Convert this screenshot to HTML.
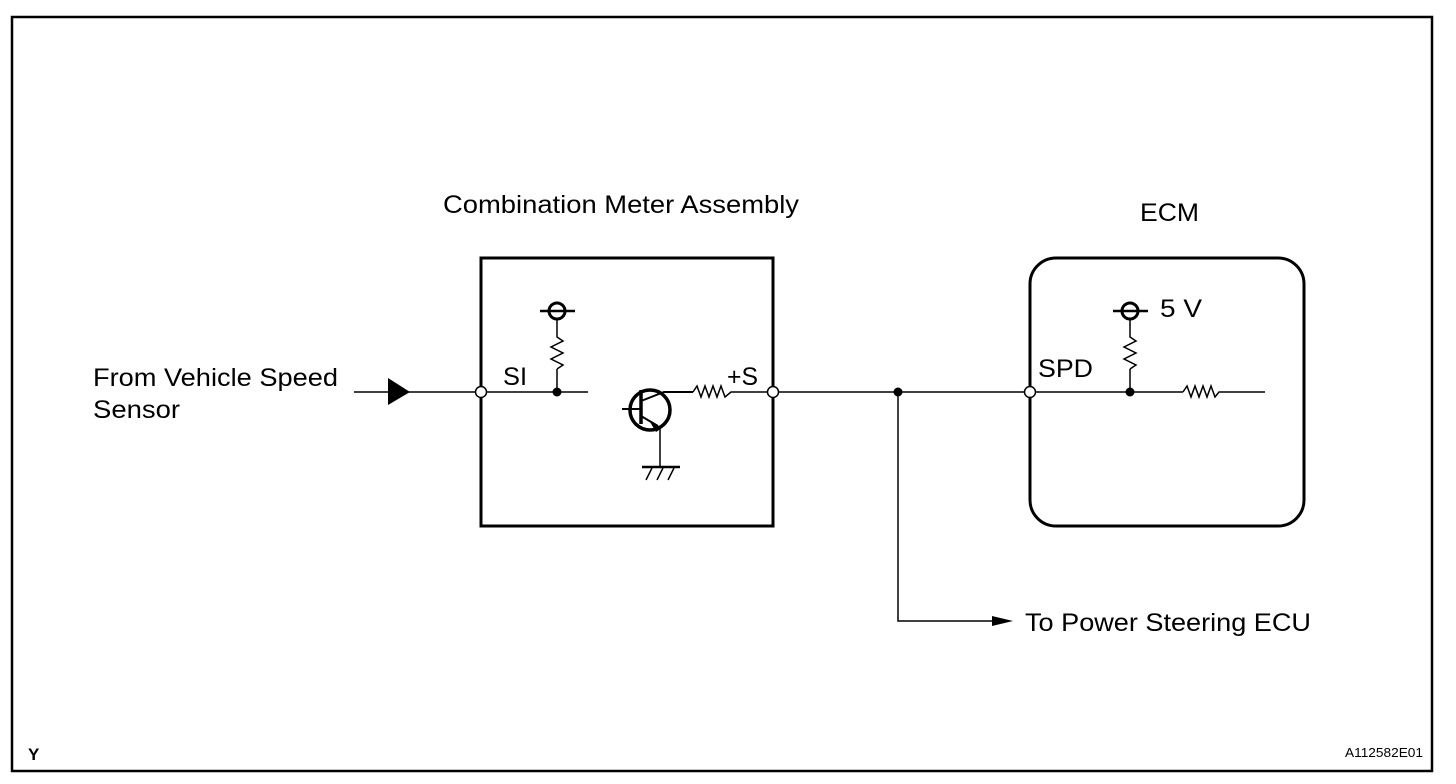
<!DOCTYPE html>
<html><head><meta charset="utf-8"><style>
html,body{margin:0;padding:0;background:#fff;}
svg{display:block;}
text{font-family:"Liberation Sans",Arial,sans-serif;fill:#000;}
</style></head><body>
<svg width="1456" height="784" viewBox="0 0 1456 784" xmlns="http://www.w3.org/2000/svg">
<rect x="12" y="17" width="1420" height="754" fill="none" stroke="#000" stroke-width="2.5"/>
<g stroke="#000" fill="none">
<rect x="481" y="258" width="292" height="268" stroke-width="3"/>
<rect x="1030" y="258" width="274" height="268" rx="26" stroke-width="3"/>
<line x1="354" y1="392" x2="588" y2="392" stroke-width="1.5"/>
<line x1="557" y1="392" x2="557" y2="369" stroke-width="1.5"/>
<polyline points="557,369 563,365 551,359 563,353 551,347 563,341 557,337 557,319" stroke-width="1.5"/>
<circle cx="557" cy="311" r="8" stroke-width="3"/>
<line x1="540" y1="311" x2="575" y2="311" stroke-width="2.5"/>
<circle cx="650" cy="410" r="20" stroke-width="3.5"/>
<line x1="641" y1="390" x2="641" y2="424" stroke-width="3.5"/>
<line x1="622" y1="409" x2="641" y2="409" stroke-width="2"/>
<polyline points="641,401 664,392 693,392" stroke-width="2"/>
<line x1="641" y1="416" x2="658" y2="426" stroke-width="2"/>
<line x1="660" y1="428" x2="660" y2="467" stroke-width="1.5"/>
<line x1="642" y1="467" x2="680" y2="467" stroke-width="2.5"/>
<line x1="646" y1="480" x2="652" y2="468" stroke-width="1.5"/>
<line x1="657" y1="480" x2="663" y2="468" stroke-width="1.5"/>
<line x1="668" y1="480" x2="674" y2="468" stroke-width="1.5"/>
<polyline points="693,392 697,386 701,397 705,386 709,397 713,386 717,397 721,386 725,397 731,392 773,392" stroke-width="1.5"/>
<line x1="773" y1="392" x2="1030" y2="392" stroke-width="1.5"/>
<polyline points="898,392 898,621 995,621" stroke-width="1.5"/>
<line x1="1030" y1="392" x2="1183" y2="392" stroke-width="1.5"/>
<polyline points="1183,392 1187,386 1191,397 1195,386 1199,397 1203,386 1207,397 1211,386 1215,397 1219,392 1265,392" stroke-width="1.5"/>
<line x1="1130" y1="392" x2="1130" y2="369" stroke-width="1.5"/>
<polyline points="1130,369 1136,365 1124,359 1136,353 1124,347 1136,341 1130,337 1130,319" stroke-width="1.5"/>
<circle cx="1130" cy="311" r="8" stroke-width="3"/>
<line x1="1113" y1="311" x2="1148" y2="311" stroke-width="2.5"/>
<circle cx="481" cy="392" r="5.5" fill="#fff" stroke-width="1.5"/>
<circle cx="773" cy="392" r="5.5" fill="#fff" stroke-width="1.5"/>
<circle cx="1030" cy="392" r="5.5" fill="#fff" stroke-width="1.5"/>
</g>
<g fill="#000">
<polygon points="388,378 410,392 388,405"/>
<polygon points="650,422 662,428 656,432"/>
<polygon points="992,616 1013,621 992,626"/>
<circle cx="557" cy="392" r="4.5"/>
<circle cx="898" cy="392" r="4.5"/>
<circle cx="1130" cy="392" r="4.5"/>
</g>
<g font-size="25">
<text x="443" y="213" textLength="356" lengthAdjust="spacingAndGlyphs">Combination Meter Assembly</text>
<text x="1140" y="221" textLength="59" lengthAdjust="spacingAndGlyphs">ECM</text>
<text x="93" y="386" textLength="245" lengthAdjust="spacingAndGlyphs">From Vehicle Speed</text>
<text x="93" y="418" textLength="87" lengthAdjust="spacingAndGlyphs">Sensor</text>
<text x="503" y="385" textLength="24" lengthAdjust="spacingAndGlyphs">SI</text>
<text x="727" y="385" textLength="31" lengthAdjust="spacingAndGlyphs">+S</text>
<text x="1038" y="377" textLength="55" lengthAdjust="spacingAndGlyphs">SPD</text>
<text x="1160" y="317" textLength="42" lengthAdjust="spacingAndGlyphs">5 V</text>
<text x="1025" y="631" textLength="286" lengthAdjust="spacingAndGlyphs">To Power Steering ECU</text>
<text x="28" y="760" font-size="17" font-weight="bold">Y</text>
<text x="1345" y="757" font-size="13" textLength="78" lengthAdjust="spacingAndGlyphs">A112582E01</text>
</g>
</svg>
</body></html>
